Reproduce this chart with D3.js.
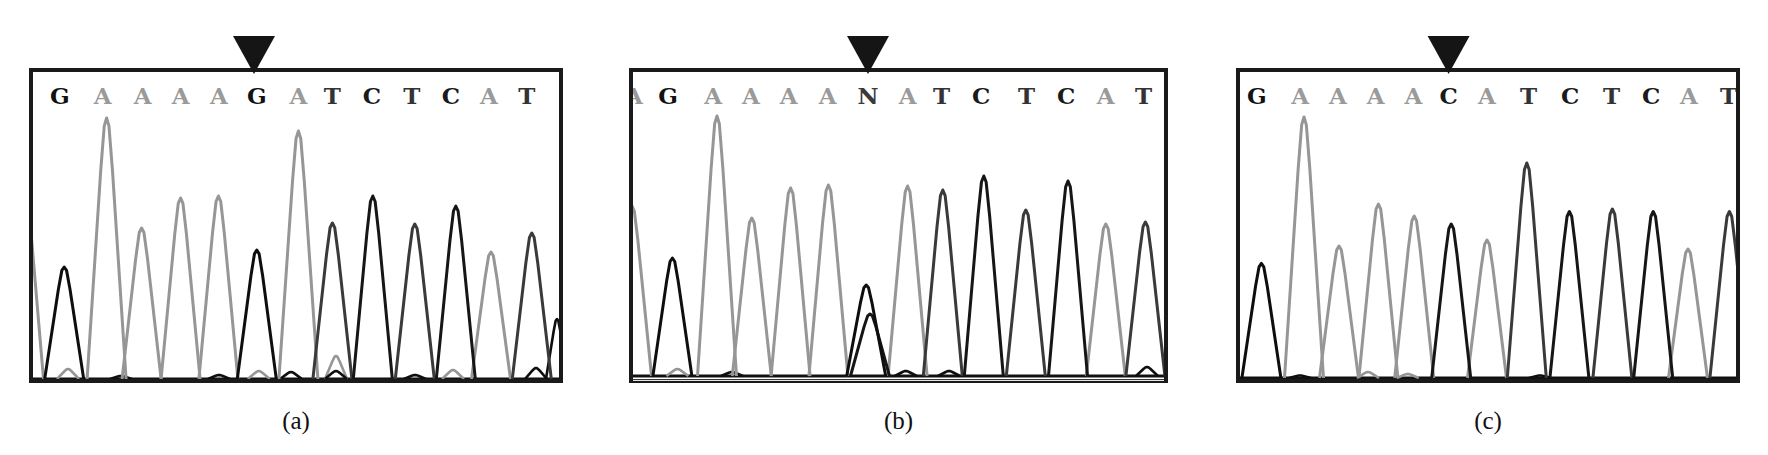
<!DOCTYPE html>
<html><head><meta charset="utf-8">
<script src="https://cdn.jsdelivr.net/npm/d3@7"></script>
<style>body{margin:0;background:#fff}svg{display:block}</style>
</head><body>
<svg id="chart" width="1768" height="455"></svg>
<script>
// ---------- DATA ----------
const panelLabels = ["(a)", "(b)", "(c)"];
// visible scan window of each panel
const scanDomain_a = [0, 263];
const scanDomain_b = [0, 265.5];
const scanDomain_c = [0, 248];
// base calls printed above the traces
const calls_a = ["G","A","A","A","A","G","A","T","C","T","C","A","T"];
const callScan_a = [13.4, 34.9, 54.9, 73.8, 93, 111.9, 132.7, 149.7, 169.5, 189.4, 209, 228, 246.9];
const calls_b = ["A","G","A","A","A","A","N","A","T","C","T","C","A","T"];
const callScan_b = [0.5, 17.5, 40.1, 59, 77.9, 97.3, 117.5, 137.3, 154.3, 174.1, 196.8, 216.6, 236.4, 255.3];
const calls_c = ["G","A","A","A","A","C","A","T","C","T","C","A","T"];
const callScan_c = [8.4, 30.1, 49, 67.9, 86.7, 104.3, 123.5, 144.3, 165.1, 185.8, 205.6, 224.5, 244.3];
// position of the arrow (mutation site), scans
const markerScan = [110.5, 117.5, 104.3];
// trace peaks: channel, scan of apex, signal height
const peakBase_a = ["A","G","A","A","A","A","G","A","T","C","T","C","A","T"];
const peakScan_a = [-4.5, 15.6, 36.8, 54.3, 73.8, 92.7, 111.9, 132.7, 149.7, 169.9, 190.9, 211.4, 229, 249.4];
const peakHeight_a = [2000, 1120, 2610, 1510, 1810, 1830, 1290, 2480, 1560, 1830, 1550, 1730, 1270, 1460];
const peakBase_b = ["A","G","A","A","A","A","G","C","A","T","C","T","C","A","T"];
const peakScan_b = [-0.5, 19.7, 42, 59.4, 78.8, 97.7, 116.6, 118.5, 137.3, 154.9, 175.4, 196.4, 217.5, 236.4, 256.2];
const peakHeight_b = [1700, 1180, 2600, 1580, 1880, 1910, 910, 620, 1900, 1860, 2000, 1660, 1950, 1520, 1540];
const peakBase_c = ["G","A","A","A","A","C","A","T","C","T","C","A","T"];
const peakScan_c = [10.7, 32, 49.5, 69.2, 87.1, 105.6, 123.5, 143.4, 164.7, 186.2, 206.6, 224, 244.7];
const peakHeight_c = [1146, 2610, 1320, 1740, 1620, 1540, 1380, 2150, 1665, 1690, 1665, 1290, 1665];
// small background bumps near the baseline (and the trace end at the right of panel a)
const bumpBase_a = ["A","G","A","G","G","A","G","A","G","G","G"];
const bumpScan_a = [17.5, 44, 112.9, 93, 129, 151.5, 151.5, 210, 191, 251.5, 262];
const bumpHeight_a = [100, 30, 80, 40, 70, 230, 80, 90, 40, 110, 600];
const bumpBase_b = ["A","G","G","G","G"];
const bumpScan_b = [22.2, 49.5, 136.4, 158, 257];
const bumpHeight_b = [70, 40, 50, 50, 90];
const bumpBase_c = ["A","A","G","G"];
const bumpScan_c = [64, 83.9, 30, 150];
const bumpHeight_c = [60, 40, 25, 25];

// ---------- STYLE / LAYOUT ----------
const traceColor = {A: "#969696", G: "#0e0e0e", C: "#161616", T: "#3a3a3a"};
const letterColor = {A: "#9a9a9a", G: "#111111", C: "#1a1a1a", T: "#333333", N: "#3a3a3a"};
const drawOrder = ["A", "T", "C", "G"];
const boxes = [
  {x0: 29, x1: 563, base: 379},
  {x0: 629, x1: 1168, base: 376},
  {x0: 1236, x1: 1740, base: 378}
];
const boxTop = 68, boxBottom = 383, sw = 4;

const panels = [
  {label: panelLabels[0], dom: scanDomain_a, calls: calls_a, callScan: callScan_a,
   pb: peakBase_a, ps: peakScan_a, ph: peakHeight_a, bb: bumpBase_a, bs: bumpScan_a, bh: bumpHeight_a, marker: markerScan[0]},
  {label: panelLabels[1], dom: scanDomain_b, calls: calls_b, callScan: callScan_b,
   pb: peakBase_b, ps: peakScan_b, ph: peakHeight_b, bb: bumpBase_b, bs: bumpScan_b, bh: bumpHeight_b, marker: markerScan[1]},
  {label: panelLabels[2], dom: scanDomain_c, calls: calls_c, callScan: callScan_c,
   pb: peakBase_c, ps: peakScan_c, ph: peakHeight_c, bb: bumpBase_c, bs: bumpScan_c, bh: bumpHeight_c, marker: markerScan[2]}
];

const svg = d3.select("#chart");
svg.append("rect").attr("width", 1768).attr("height", 455).attr("fill", "#fff");

panels.forEach((p, i) => {
  const b = boxes[i];
  const innerL = b.x0 + sw, innerR = b.x1 - sw;
  const innerT = boxTop + sw, innerB = boxBottom - sw;
  const x = d3.scaleLinear().domain(p.dom).range([innerL, innerR]);
  const y = d3.scaleLinear().domain([0, 3000]).range([b.base, b.base - 300]);

  const clipId = "clip" + i;
  svg.append("clipPath").attr("id", clipId).append("rect")
    .attr("x", innerL).attr("y", innerT).attr("width", innerR - innerL).attr("height", innerB - innerT);

  const g = svg.append("g").attr("clip-path", `url(#${clipId})`);

  const line = d3.line().x(d => x(d[0])).y(d => y(d[1]));
  const peakPts = (c, h, w) => [[c - w, 0], [c - 0.3 * w, 0.8 * h], [c - 0.12 * w, 0.97 * h], [c, h],
                                [c + 0.12 * w, 0.97 * h], [c + 0.3 * w, 0.8 * h], [c + w, 0]];

  // baseline
  g.append("line").attr("x1", innerL).attr("x2", innerR)
    .attr("y1", y(0)).attr("y2", y(0))
    .attr("stroke", "#111").attr("stroke-width", 3);

  const bumps = p.bb.map((base, k) => ({base, s: p.bs[k], h: p.bh[k]}));
  const peaks = p.pb.map((base, k) => ({base, s: p.ps[k], h: p.ph[k]}));

  drawOrder.forEach(ch => {
    g.selectAll(null).data(bumps.filter(d => d.base === ch)).join("path")
      .attr("d", d => line(peakPts(d.s, d.h, 5.5)))
      .attr("fill", "none").attr("stroke", traceColor[ch]).attr("stroke-width", 2.6)
      .attr("stroke-linejoin", "round");
  });
  drawOrder.forEach(ch => {
    g.selectAll(null).data(peaks.filter(d => d.base === ch)).join("path")
      .attr("d", d => line(peakPts(d.s, d.h, 9.75)))
      .attr("fill", "none").attr("stroke", traceColor[ch]).attr("stroke-width", 3)
      .attr("stroke-linejoin", "round");
  });

  // base calls
  g.selectAll(null).data(p.calls.map((c, k) => ({c, s: p.callScan[k]}))).join("text")
    .attr("x", d => x(d.s)).attr("y", 104)
    .attr("text-anchor", "middle")
    .attr("font-family", "'DejaVu Serif', serif")
    .attr("font-weight", "bold").attr("font-size", 23)
    .attr("fill", d => letterColor[d.c])
    .text(d => d.c);

  // frame
  svg.append("rect").attr("x", b.x0 + sw / 2).attr("y", boxTop + sw / 2)
    .attr("width", b.x1 - b.x0 - sw).attr("height", boxBottom - boxTop - sw)
    .attr("fill", "none").attr("stroke", "#1a1a1a").attr("stroke-width", sw);
  if (i === 1) {
    svg.append("line").attr("x1", b.x0 + sw).attr("x2", b.x1 - sw)
      .attr("y1", boxBottom - 2.6).attr("y2", boxBottom - 2.6)
      .attr("stroke", "#fff").attr("stroke-width", 1);
  }

  // arrow marker
  const mx = x(p.marker);
  svg.append("path")
    .attr("d", d3.line()([[mx - 21, 36], [mx + 21, 36], [mx, 74]]) + "Z")
    .attr("fill", "#151515");

  // panel label
  svg.append("text")
    .attr("x", (b.x0 + b.x1) / 2).attr("y", 429)
    .attr("text-anchor", "middle")
    .attr("font-family", "'Liberation Serif', 'Times New Roman', serif")
    .attr("font-size", 25).attr("fill", "#111")
    .text(p.label);
});
</script>
</body></html>
